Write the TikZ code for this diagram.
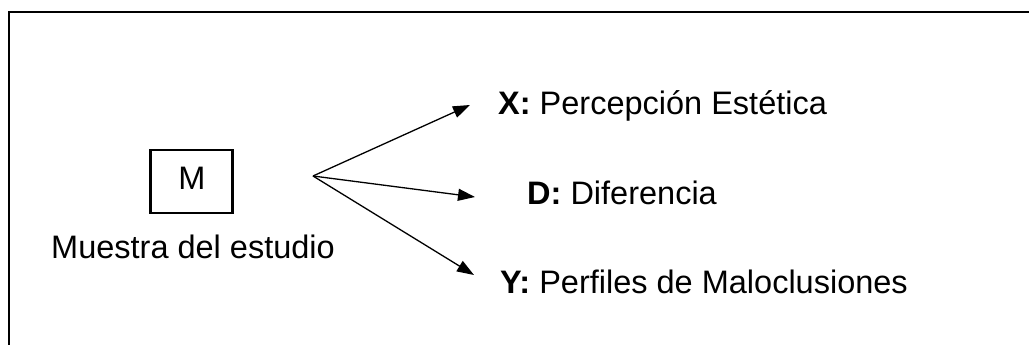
\documentclass[tikz,border=0pt]{standalone}
\usepackage{fontspec}
\setmainfont{Liberation Sans}
\usetikzlibrary{arrows.meta}

\begin{document}
\begin{tikzpicture}[x=1pt, y=-1pt, every node/.style={font=\fontsize{32.5}{38}\selectfont, inner sep=0pt}]
\clip (0,0) rectangle (1029,345);
\path[draw, line width=2.2pt] (9,12) rectangle (1100,420);

\node[draw, line width=2.2pt, minimum width=82pt, minimum height=63pt] (m) at (191.5,181.5) {};
\node[anchor=base] (mtext) at (192,189) {M};
\node[anchor=base] (muestra) at (193,258) {Muestra del estudio};

\node[anchor=base west] (x) at (498,114) {\textbf{X:} Percepción Estética};
\node[anchor=base west] (d) at (527,204) {\textbf{D:} Diferencia};
\node[anchor=base west] (y) at (500,293) {\textbf{Y:} Perfiles de Maloclusiones};

\coordinate (o) at (313,176);
\coordinate (tx) at (470,105);
\coordinate (td) at (475,197);
\coordinate (ty) at (474,275);

\path[draw, line width=1.3pt, -{Triangle[length=17pt, width=12pt]}] (o) -- (tx);
\path[draw, line width=1.3pt, -{Triangle[length=17pt, width=12pt]}] (o) -- (td);
\path[draw, line width=1.3pt, -{Triangle[length=17pt, width=12pt]}] (o) -- (ty);
\end{tikzpicture}
\end{document}
